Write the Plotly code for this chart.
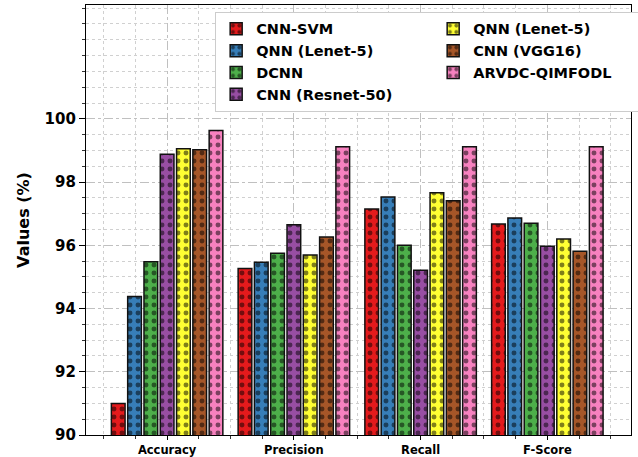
import plotly.graph_objects as go

categories = ["Accuracy", "Precision", "Recall", "F-Score"]
series_names = ["CNN-SVM", "QNN (Lenet-5)", "DCNN", "CNN (Resnet-50)",
                "QNN (Lenet-5)", "CNN (VGG16)", "ARVDC-QIMFODL"]
cnn_svm = [91.00, 95.27, 97.15, 96.67]
qnn_blue = [94.38, 95.46, 97.53, 96.86]
dcnn = [95.48, 95.75, 96.00, 96.70]
resnet = [98.88, 96.65, 95.21, 95.97]
qnn_yellow = [99.05, 95.69, 97.66, 96.20]
vgg16 = [99.02, 96.26, 97.41, 95.81]
arvdc = [99.63, 99.12, 99.12, 99.12]
series_values = [cnn_svm, qnn_blue, dcnn, resnet, qnn_yellow, vgg16, arvdc]
colors = ["#e41a1c", "#377eb8", "#4daf4a", "#984ea3", "#ffff33", "#a65628", "#f781bf"]
legend_ranks = [1, 3, 5, 7, 2, 4, 6]
y_ticks = [90, 92, 94, 96, 98, 100]

FONT = "DejaVu Sans"
xpos = list(range(len(categories)))

fig = go.Figure()
for name, vals, col, rk in zip(series_names, series_values, colors, legend_ranks):
    fig.add_trace(go.Bar(
        x=xpos, y=vals, name=name, legendrank=rk,
        marker=dict(color=col, line=dict(color="#111111", width=1.5),
                    pattern=dict(shape=".", fgcolor="black", size=8, solidity=0.3)),
    ))

fig.update_layout(
    width=638, height=457,
    margin=dict(l=86, r=7, t=5, b=22, autoexpand=False),
    paper_bgcolor="white", plot_bgcolor="white",
    barmode="group", bargap=0.1, bargroupgap=0.16,
    font=dict(family=FONT, color="black", weight="bold"),
    showlegend=True,
    legend=dict(
        orientation="h", x=0.237, xanchor="left", y=0.984, yanchor="top",
        entrywidth=172, entrywidthmode="pixels",
        bgcolor="white", bordercolor="#cccccc", borderwidth=1,
        font=dict(family=FONT, size=14.5, color="black", weight="bold"),
        itemwidth=30,
    ),
)

fig.update_xaxes(
    range=[-0.64, 3.66], tickmode="array", tickvals=xpos, ticktext=categories,
    tickfont=dict(family=FONT, size=11.5, weight="bold"),
    showline=True, mirror=True, linecolor="black", linewidth=1.2,
    ticks="outside", ticklen=4, tickcolor="black", automargin=False,
    showgrid=True, gridcolor="#c0c0c0", griddash="dashdot", gridwidth=1,
    zeroline=False,
    minor=dict(tick0=0, dtick=0.25, ticks="outside", ticklen=3, tickcolor="#333333",
               showgrid=True, gridcolor="#d0d0d0", griddash="dot", gridwidth=1),
)
fig.update_yaxes(
    range=[90, 103.6], tickmode="array", tickvals=y_ticks,
    tickfont=dict(family=FONT, size=15, weight="bold"),
    title=dict(text="Values (%)", font=dict(family=FONT, size=16, weight="bold"), standoff=10),
    showline=True, mirror=True, linecolor="black", linewidth=1.2,
    ticks="outside", ticklen=6, tickcolor="black", automargin=False,
    showgrid=True, gridcolor="#c0c0c0", griddash="dashdot", gridwidth=1,
    zeroline=False,
    minor=dict(tick0=90, dtick=0.5, ticks="outside", ticklen=3, tickcolor="#333333",
               showgrid=True, gridcolor="#d0d0d0", griddash="dot", gridwidth=1),
)

fig.write_html("out.html",
               config={"displayModeBar": False},
               post_script="document.body.style.margin='0';document.body.style.overflow='hidden';")
